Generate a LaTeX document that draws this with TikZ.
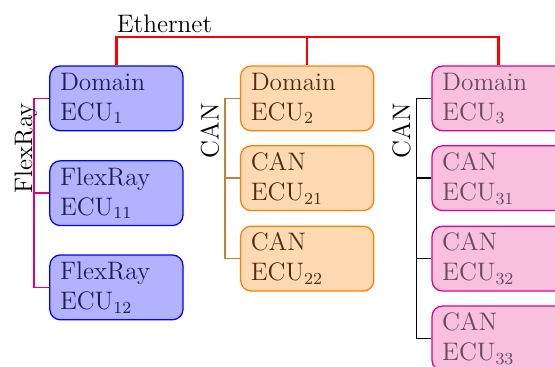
\documentclass[tikz,border=0pt]{standalone}
\definecolor{ecupink}{RGB}{230,0,126}
\definecolor{ecunavy}{RGB}{30,30,80}
\definecolor{ecubrown}{RGB}{75,45,20}
\definecolor{ecugray}{RGB}{100,75,90}
\usepackage{amsmath}
\usepackage{tikz}

\begin{document}
\begin{tikzpicture}[auto]

%
% Styles
%
\tikzstyle{ecu}       = [rectangle,rounded corners=5pt,semithick,minimum width=2.22cm,minimum height=1.08cm,
                         text width=1.88cm,inner xsep=0.17cm,inner ysep=2pt,align=left,
                         font=\fontsize{12}{14.2}\selectfont]
\tikzstyle{blueecu}   = [ecu,draw=blue,fill=blue!30,text=ecunavy]
\tikzstyle{orangeecu} = [ecu,draw=orange,fill=orange!30,text=ecubrown]
\tikzstyle{pinkecu}   = [ecu,draw=ecupink,fill=ecupink!25,text=ecugray]
\tikzstyle{ethernet}  = [very thick,red]
\tikzstyle{flexbus}   = [thick,ecupink]
\tikzstyle{canbus}    = [thick,brown]
\tikzstyle{blackbus}  = [thick,black]
\tikzstyle{buslabel}  = [rotate=90,anchor=base east,inner sep=0pt,font=\large]

\useasboundingbox (-1.94,-4.475) rectangle (7.31,1.64);

\node[blueecu] (dom1)   at (0, 0)     {Domain\\ECU$_1$};
\node[blueecu] (flex11) at (0,-1.58)  {FlexRay\\ECU$_{11}$};
\node[blueecu] (flex12) at (0,-3.15)  {FlexRay\\ECU$_{12}$};

\node[orangeecu] (dom2)  at (3.18, 0)    {Domain\\ECU$_2$};
\node[orangeecu] (can21) at (3.18,-1.33) {CAN\\ECU$_{21}$};
\node[orangeecu] (can22) at (3.18,-2.67) {CAN\\ECU$_{22}$};

\node[pinkecu] (dom3)  at (6.37, 0)    {Domain\\ECU$_3$};
\node[pinkecu] (can31) at (6.37,-1.33) {CAN\\ECU$_{31}$};
\node[pinkecu] (can32) at (6.37,-2.67) {CAN\\ECU$_{32}$};
\node[pinkecu] (can33) at (6.37,-4.0)  {CAN\\ECU$_{33}$};

% backbone
\coordinate (eth) at (0,1.025);
\draw[ethernet] (dom1.north) |- (dom3.north |- eth) -- (dom3.north);
\draw[ethernet] (dom2.north) -- (dom2.north |- eth);
\node[anchor=base west,inner sep=0pt,font=\large] (ethlabel) at ([yshift=2pt]eth) {Ethernet};

% FlexRay
\draw[flexbus] (dom1.west) -- ++(-0.25,0) coordinate (flextop) |- (flex12.west);
\draw[flexbus] (flex11.west) -| (flextop);
\node[buslabel] (flexlabel) at ([xshift=-1pt,yshift=-2pt]flextop) {FlexRay};

% CAN 2
\draw[canbus] (dom2.west) -- ++(-0.25,0) coordinate (cantop2) |- (can22.west);
\draw[canbus] (can21.west) -| (cantop2);
\node[buslabel] (canlabel2) at ([xshift=-3pt,yshift=-2pt]cantop2) {CAN};

% CAN 3
\draw[blackbus] (dom3.west) -- ++(-0.25,0) coordinate (cantop3) |- (can33.west);
\draw[blackbus] (can31.west) -| (cantop3);
\draw[blackbus] (can32.west) -| (cantop3);
\node[buslabel] (canlabel3) at ([xshift=-3pt,yshift=-2pt]cantop3) {CAN};

\end{tikzpicture}
\end{document}
